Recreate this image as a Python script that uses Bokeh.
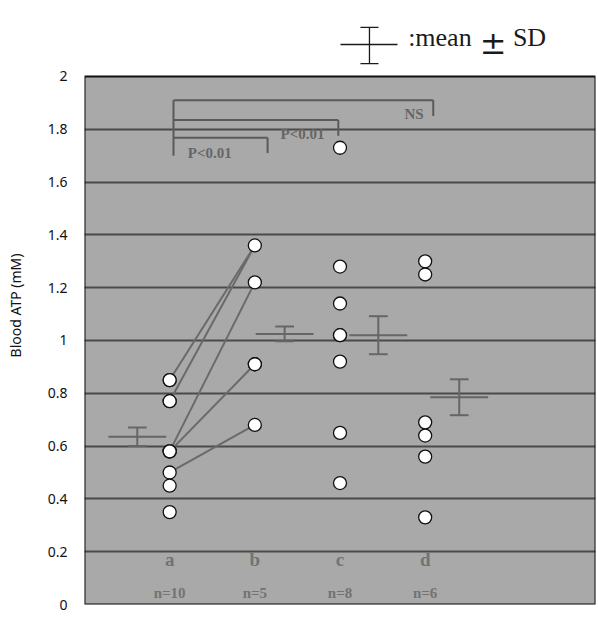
from bokeh.plotting import figure
from bokeh.models import FixedTicker, Grid
from bokeh.core.properties import value
from bokeh.embed import file_html
from bokeh.resources import INLINE

# ---------------- data ----------------
groups = ["a", "b", "c", "d"]
group_x = [1, 2, 3, 4]
a_vals = [0.85, 0.85, 0.77, 0.77, 0.58, 0.58, 0.58, 0.50, 0.45, 0.35]
b_vals = [1.36, 1.22, 0.91, 0.91, 0.68]
c_vals = [1.73, 1.28, 1.14, 1.02, 1.02, 0.92, 0.65, 0.46]
d_vals = [1.30, 1.25, 0.69, 0.64, 0.56, 0.33]
# paired a -> b connections
pair_a = [0.85, 0.77, 0.58, 0.58, 0.50]
pair_b = [1.36, 1.36, 1.22, 0.91, 0.68]
# mean +- SD markers
means = [0.635, 1.025, 1.02, 0.785]
sds = [0.035, 0.028, 0.072, 0.068]
# significance brackets
brackets = [("a", "d", "NS"), ("a", "c", "P<0.01"), ("a", "b", "P<0.01")]
y_ticks = [0, 0.2, 0.4, 0.6, 0.8, 1.0, 1.2, 1.4, 1.6, 1.8, 2.0]
y_tick_labels = ["0", "0.2", "0.4", "0.6", "0.8", "1", "1.2", "1.4", "1.6", "1.8", "2"]

all_vals = [a_vals, b_vals, c_vals, d_vals]

# ---------------- styles ----------------
GRID = "#4a4a4a"
BG = "#a9a9a9"
MARK = "#666666"
TXT = "#666666"
Y_TOP = 2.265   # room above the box for the key

p = figure(width=596, height=616, x_range=(0, 6), y_range=(0, Y_TOP),
           toolbar_location=None, output_backend="svg",
           min_border_left=84, min_border_right=1, min_border_top=6,
           min_border_bottom=12)
p.background_fill_color = "white"
p.border_fill_color = "white"
p.outline_line_color = None
p.xaxis.visible = False
p.xgrid.visible = False
p.ygrid.visible = False

p.yaxis.ticker = FixedTicker(ticks=y_ticks)
p.yaxis.bounds = (y_ticks[0], y_ticks[-1])
p.yaxis.major_label_overrides = {t: l for t, l in zip(y_ticks, y_tick_labels)}
p.yaxis.axis_line_color = None
p.yaxis.major_tick_line_color = None
p.yaxis.minor_tick_line_color = None
p.yaxis.major_tick_out = 0
p.yaxis.major_tick_in = 0
p.yaxis.minor_tick_out = 0
p.yaxis.major_label_standoff = 17
p.yaxis.major_label_text_font = "Noto Sans"
p.yaxis.major_label_text_font_size = "14px"
p.yaxis.major_label_text_color = "#111111"
p.yaxis.axis_label = "Blood ATP (mM)"
p.yaxis.axis_label_text_font = "Noto Sans"
p.yaxis.axis_label_text_font_size = "14px"
p.yaxis.axis_label_text_font_style = "normal"
p.yaxis.axis_label_text_color = "#111111"
p.yaxis.axis_label_standoff = 20

# gray box of the plot area
p.quad(left=[0], right=[6], bottom=[y_ticks[0]], top=[y_ticks[-1]],
       fill_color=BG, line_color=None)
# horizontal grid lines on top of the gray box
grid = Grid(dimension=1, ticker=FixedTicker(ticks=y_ticks[1:-1]),
            grid_line_color=GRID, grid_line_width=2, level="glyph")
p.renderers.append(grid)
# box border
p.quad(left=[0], right=[6], bottom=[y_ticks[0]], top=[y_ticks[-1]],
       fill_color=None, line_color="#111111", line_width=2)

# ---------------- key: "mean ± SD" ----------------
KEY = "#1a1a1a"
p.segment(x0=[3.006, 3.346, 3.24, 3.24], y0=[2.121, 2.186, 2.186, 2.049],
          x1=[3.675, 3.346, 3.452, 3.452], y1=[2.121, 2.049, 2.186, 2.049],
          line_color=KEY, line_width=1.3)
p.text(x=[3.80], y=[2.148], text=[":mean"], text_font=value("Liberation Serif"),
       text_font_size="26px", text_baseline="alphabetic", text_align="left",
       text_color=KEY)
p.text(x=[4.64], y=[2.125], text=["±"], text_font=value("DejaVu Serif"),
       text_font_size="32px", text_baseline="alphabetic", text_align="left",
       text_color=KEY)
p.text(x=[5.03], y=[2.148], text=["SD"], text_font=value("Liberation Serif"),
       text_font_size="26px", text_baseline="alphabetic", text_align="left",
       text_color=KEY)

# paired lines a -> b
p.segment(x0=[group_x[0]] * len(pair_a), y0=pair_a,
          x1=[group_x[1]] * len(pair_b), y1=pair_b,
          line_color="#6a6a6a", line_width=2)

# mean +- SD markers (drawn beside each column)
offsets = [-0.38, 0.35, 0.45, 0.40]
half_w = 0.34
cap_w = 0.11
mx = [gx + o for gx, o in zip(group_x, offsets)]
p.segment(x0=[x - half_w for x in mx], y0=means, x1=[x + half_w for x in mx], y1=means,
          line_color=MARK, line_width=2)
lo = [m - s for m, s in zip(means, sds)]
hi = [m + s for m, s in zip(means, sds)]
p.segment(x0=mx, y0=lo, x1=mx, y1=hi, line_color=MARK, line_width=2)
p.segment(x0=[x - cap_w for x in mx], y0=hi, x1=[x + cap_w for x in mx], y1=hi,
          line_color=MARK, line_width=2)
p.segment(x0=[x - cap_w for x in mx], y0=lo, x1=[x + cap_w for x in mx], y1=lo,
          line_color=MARK, line_width=2)

# data points
xs, ys = [], []
for gx, vals in zip(group_x, all_vals):
    xs += [gx] * len(vals)
    ys += vals
p.scatter(x=xs, y=ys, size=13, fill_color="white", line_color="#111111", line_width=1.3)

# significance brackets
gidx = {g: i for i, g in enumerate(groups)}
left_x = group_x[0] + 0.045
right_adj = {"b": 0.15, "c": -0.02, "d": 0.095}
top_y = [1.91, 1.835, 1.768]
drop_y = [1.85, 1.775, 1.71]
txt_pos = [(3.87, 1.858), (2.56, 1.783), (1.47, 1.712)]
bx0, by0, bx1, by1 = [], [], [], []
for (g1, g2, lab), ty, dy in zip(brackets, top_y, drop_y):
    rx = group_x[gidx[g2]] + right_adj[g2]
    bx0 += [left_x, rx]
    by0 += [ty, ty]
    bx1 += [rx, rx]
    by1 += [ty, dy]
bx0.append(left_x); by0.append(top_y[0]); bx1.append(left_x); by1.append(1.70)
p.segment(x0=bx0, y0=by0, x1=bx1, y1=by1, line_color="#5a5a5a", line_width=2)
p.text(x=[t[0] for t in txt_pos], y=[t[1] for t in txt_pos], text=[b[2] for b in brackets],
       text_font=value("Liberation Serif"), text_font_style="bold", text_font_size="15px",
       text_color=TXT, text_align="center", text_baseline="middle")

# category labels inside the plot
p.text(x=group_x, y=[0.172] * 4, text=groups, text_font=value("Liberation Serif"),
       text_font_style="bold", text_font_size="19px", text_color="#737373",
       text_align="center", text_baseline="middle")
p.text(x=group_x, y=[0.045] * 4, text=["n=%d" % len(v) for v in all_vals],
       text_font=value("Liberation Serif"), text_font_style="bold", text_font_size="15px",
       text_color="#737373", text_align="center", text_baseline="middle")

open("out.html", "w").write(file_html(p, INLINE))
